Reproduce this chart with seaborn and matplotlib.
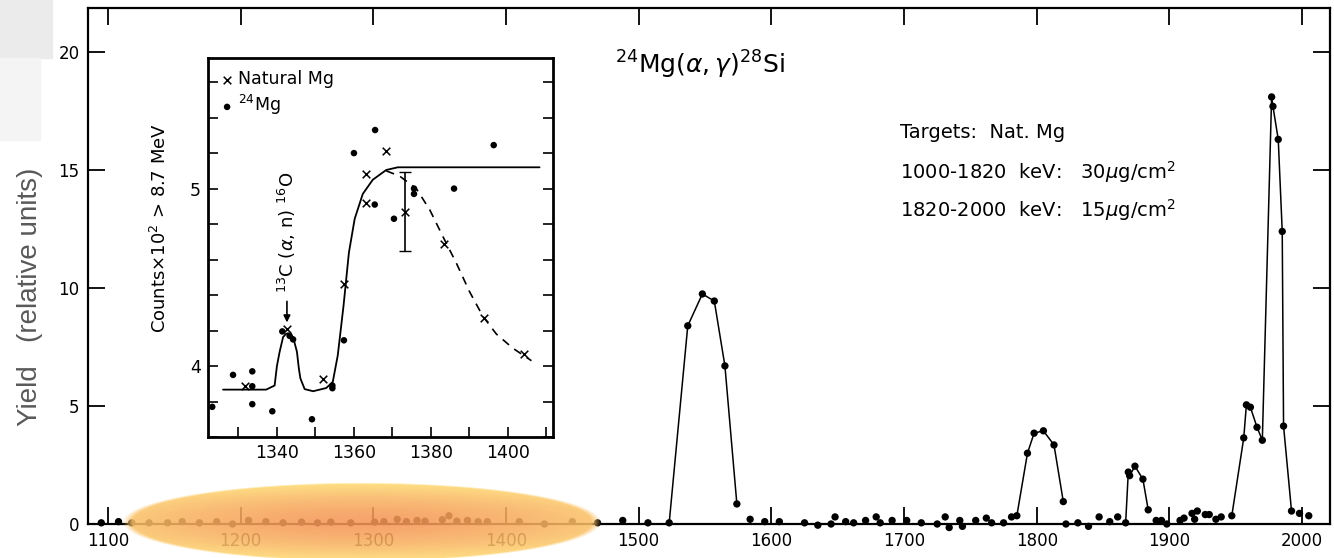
import numpy as np
import pandas as pd
import matplotlib
matplotlib.use("Agg")
import matplotlib.pyplot as plt
from matplotlib.patches import Rectangle
import seaborn as sns

# ---- main excitation function 24Mg(a,g)28Si ----
bg_energy = [1095, 1108, 1118, 1131, 1145, 1156, 1169, 1182, 1194, 1206,
             1219, 1232, 1246, 1258, 1268, 1283, 1301, 1308, 1318, 1325,
             1333, 1339, 1352, 1357, 1363, 1371, 1379, 1386, 1410, 1429,
             1450, 1469, 1488, 1507,
             1584, 1595, 1606, 1625, 1635, 1645, 1648, 1656, 1662, 1671,
             1679, 1682, 1691, 1702, 1713, 1725, 1731, 1734, 1742, 1744,
             1754, 1762, 1766, 1775,
             1822, 1831, 1839, 1847, 1855, 1861,
             1890, 1894, 1898, 1908, 1911, 1917, 1919, 1921, 1927, 1930,
             1935, 1939,
             1998, 2005]
bg_yield = [0.05, 0.1, 0.05, 0.05, 0.05, 0.1, 0.05, 0.1, 0.0, 0.15,
            0.1, 0.05, 0.08, 0.05, 0.08, 0.05, 0.08, 0.1, 0.2, 0.1,
            0.15, 0.12, 0.18, 0.35, 0.12, 0.15, 0.1, 0.1, 0.1, 0.0,
            0.1, 0.05, 0.15, 0.05,
            0.2, 0.1, 0.1, 0.05, -0.05, 0.0, 0.3, 0.1, 0.05, 0.15,
            0.3, 0.05, 0.15, 0.15, 0.05, 0.0, 0.3, -0.15, 0.15, -0.1,
            0.15, 0.25, 0.05, 0.05,
            0.0, 0.05, -0.1, 0.3, 0.1, 0.3,
            0.15, 0.15, 0.0, 0.15, 0.25, 0.45, 0.2, 0.55, 0.4, 0.4,
            0.2, 0.3,
            0.45, 0.35]

# resonances, drawn joined by lines
peak1_e = [1523, 1537, 1548, 1557, 1565, 1574]
peak1_y = [0.05, 8.4, 9.75, 9.45, 6.7, 0.85]
peak2_e = [1781, 1785, 1793, 1798, 1805, 1813, 1820]
peak2_y = [0.3, 0.35, 3.0, 3.85, 3.95, 3.35, 0.95]
peak3_e = [1867, 1869, 1870, 1874, 1880, 1884]
peak3_y = [0.05, 2.2, 2.05, 2.45, 1.9, 0.6]
peak4_e = [1947, 1956, 1958, 1961, 1966, 1970, 1977, 1978, 1982, 1985, 1986, 1992]
peak4_y = [0.35, 3.65, 5.05, 4.95, 4.1, 3.55, 18.1, 17.7, 16.3, 12.4, 4.15, 0.55]

x_ticks = list(range(1100, 2001, 100))
y_ticks = [0, 5, 10, 15, 20]

# ---- inset: 13C(a,n)16O region ----
nat_e = [1331.6, 1342.7, 1351.9, 1357.4, 1363.2, 1363.2, 1368.4, 1373.3, 1383.5, 1393.9, 1404.2]
nat_y = [3.886, 4.21, 3.925, 4.46, 5.08, 4.92, 5.21, 4.87, 4.69, 4.27, 4.07]
mg_e = [1323.2, 1328.6, 1333.6, 1333.6, 1333.6, 1338.8, 1341.4, 1343.3, 1344.2, 1349.1,
        1354.4, 1354.4, 1357.4, 1360.0, 1365.4, 1365.5, 1370.4, 1375.6, 1375.6, 1386.0, 1396.3]
mg_y = [3.77, 3.95, 3.97, 3.886, 3.785, 3.745, 4.195, 4.17, 4.15, 3.70,
        3.89, 3.875, 4.145, 5.20, 4.91, 5.33, 4.83, 5.00, 4.97, 5.00, 5.245]
fit_e = [1326.0, 1337.2, 1339.4, 1340.0, 1340.7, 1341.6, 1342.3, 1342.9, 1343.5, 1344.2,
         1345.2, 1345.7, 1346.1, 1347.2, 1349.4, 1352.8, 1354.5, 1355.8, 1357.3, 1358.7,
         1360.2, 1362.3, 1364.9, 1368.4, 1371.4, 1408.2]
fit_y = [3.867, 3.867, 3.89, 4.0, 4.08, 4.163, 4.18, 4.185, 4.175, 4.163,
         4.08, 3.985, 3.93, 3.87, 3.858, 3.876, 3.91, 4.06, 4.34, 4.64,
         4.83, 4.97, 5.05, 5.105, 5.12, 5.12]
dash_e = [1368.4, 1371.9, 1376.2, 1379.7, 1383.1, 1386.6, 1390.0, 1393.5, 1397.0, 1401.3, 1406.1]
dash_y = [5.10, 5.07, 5.0, 4.88, 4.73, 4.58, 4.42, 4.28, 4.18, 4.10, 4.03]
err_e = [1373.3]
err_lo = [4.648]
err_hi = [5.094]

W, H = 1334, 558

sns.set_style("ticks")
plt.rcParams['font.family'] = ['DejaVu Sans']
plt.rcParams.update({'text.color': 'black', 'axes.labelcolor': 'black',
                     'xtick.color': 'black', 'ytick.color': 'black',
                     'axes.edgecolor': 'black'})

fig = plt.figure(figsize=(W / 100, H / 100), dpi=100)

# light grey slide remnant top left
fig.patches.append(Rectangle((0, 1 - 58 / H), 52 / W, 58 / H, transform=fig.transFigure,
                             color='#ebebeb', zorder=0))
fig.patches.append(Rectangle((0, 1 - 140 / H), 40 / W, 82 / H, transform=fig.transFigure,
                             color='#f4f4f4', zorder=0))

ax = fig.add_axes([88 / W, 1 - 524 / H, (1330 - 88) / W, (524 - 8) / H])

sns.scatterplot(x=bg_energy, y=bg_yield, ax=ax, color='black', s=28,
                edgecolor='none', clip_on=False, zorder=3)
for pe, py in [(peak1_e, peak1_y), (peak2_e, peak2_y), (peak3_e, peak3_y), (peak4_e, peak4_y)]:
    sns.lineplot(x=pe, y=py, ax=ax, color='black', lw=1.1, sort=False,
                 estimator=None, zorder=2)
    sns.scatterplot(x=pe, y=py, ax=ax, color='black', s=28, edgecolor='none',
                    clip_on=False, zorder=3)

ax.set_xlim(1085, 2021)
ax.set_ylim(0, 21.87)
ax.set_xticks(x_ticks)
ax.set_yticks(y_ticks)
ax.tick_params(direction='in', length=12, width=1.3, top=True, right=True,
               labelsize=12, pad=6)
for s in ax.spines.values():
    s.set_linewidth(1.6)
ax.set_xlabel('')
ax.set_ylabel('')

fig.text(30 / W, 1 - 297 / H, 'Yield   (relative units)', rotation=90,
         ha='center', va='center', fontsize=20, color='#595959',
         family=['Liberation Sans', 'DejaVu Sans'])

fig.text(615 / W, 1 - 65 / H, r'$^{24}$Mg($\alpha,\gamma$)$^{28}$Si',
         ha='left', va='center', fontsize=18)
fig.text(900 / W, 1 - 132 / H, 'Targets:  Nat. Mg', ha='left', va='center', fontsize=14)
fig.text(900 / W, 1 - 172 / H, '1000-1820  keV:   30$\\mu$g/cm$^2$', ha='left', va='center', fontsize=14)
fig.text(900 / W, 1 - 210 / H, '1820-2000  keV:   15$\\mu$g/cm$^2$', ha='left', va='center', fontsize=14)

# ---- inset ----
ins = fig.add_axes([208 / W, 1 - 437 / H, 345 / W, 379 / H], zorder=3)
ins.set_facecolor('white')
sns.lineplot(x=fit_e, y=fit_y, ax=ins, color='black', lw=1.3, sort=False, estimator=None)
sns.lineplot(x=dash_e, y=dash_y, ax=ins, color='black', lw=1.2, sort=False,
             estimator=None, linestyle=(0, (5, 4)))
sns.scatterplot(x=nat_e, y=nat_y, ax=ins, marker='x', color='black', s=30,
                linewidth=1.1, label='Natural Mg')
sns.scatterplot(x=mg_e, y=mg_y, ax=ins, marker='o', color='black', s=22,
                edgecolor='none', label=r'$^{24}$Mg')
ins.errorbar(err_e, [(a + b) / 2 for a, b in zip(err_lo, err_hi)],
             yerr=[(b - a) / 2 for a, b in zip(err_lo, err_hi)],
             fmt='none', ecolor='black', capsize=4, lw=1.2)

ins.annotate('', xy=(1342.6, 4.23), xytext=(1342.6, 4.38),
             arrowprops=dict(arrowstyle='-|>', color='black', lw=1.2))
ins.text(1342.6, 4.41, r'$^{13}$C ($\alpha$, n) $^{16}$O', rotation=90,
         ha='center', va='bottom', fontsize=13)

ins.set_xlim(1322.1, 1411.7)
ins.set_ylim(3.61, 5.736)
ins.set_xticks([1340, 1360, 1380, 1400])
ins.set_xticks([1330, 1350, 1370, 1390, 1410], minor=True)
ins.set_yticks([4, 5])
ins.set_yticks(np.arange(3.6, 5.75, 0.2), minor=True)
ins.tick_params(which='both', direction='in', length=7, width=1.2, right=True,
                top=False, labelsize=12.5, pad=5)
for s in ins.spines.values():
    s.set_linewidth(2)
ins.set_xlabel('')
ins.set_ylabel(r'Counts$\times$10$^2$ > 8.7 MeV', fontsize=13)
ins.yaxis.set_label_coords(-0.11, 0.55)
leg = ins.legend(loc='upper left', frameon=False, fontsize=12.5, handletextpad=0.2,
                 handlelength=0.8, borderaxespad=0.3, labelspacing=0.3)

# ---- orange highlight over the 1120-1470 keV baseline ----
hl = fig.add_axes([122 / W, -4 / H, 480 / W, 80 / H], zorder=10)
nx, ny = 400, 80
gx, gy = np.meshgrid(np.linspace(-1, 1, nx), np.linspace(-1, 1, ny))
r = np.sqrt(gx ** 2 + gy ** 2)
rc = np.sqrt(0.55 * gx ** 2 + gy ** 2)
c_in = np.array([245, 150, 85]) / 255
c_out = np.array([255, 222, 115]) / 255
t = np.clip(rc, 0, 1)[..., None] ** 1.6
rgba = np.zeros((ny, nx, 4))
rgba[..., :3] = c_in + (c_out - c_in) * t
rgba[..., 3] = 0.87 * np.clip((1 - r) * 25, 0, 1)
hl.imshow(rgba, extent=(0, 1, 0, 1), aspect='auto', interpolation='bilinear')
hl.axis('off')

fig.savefig('out.png', dpi=100)
